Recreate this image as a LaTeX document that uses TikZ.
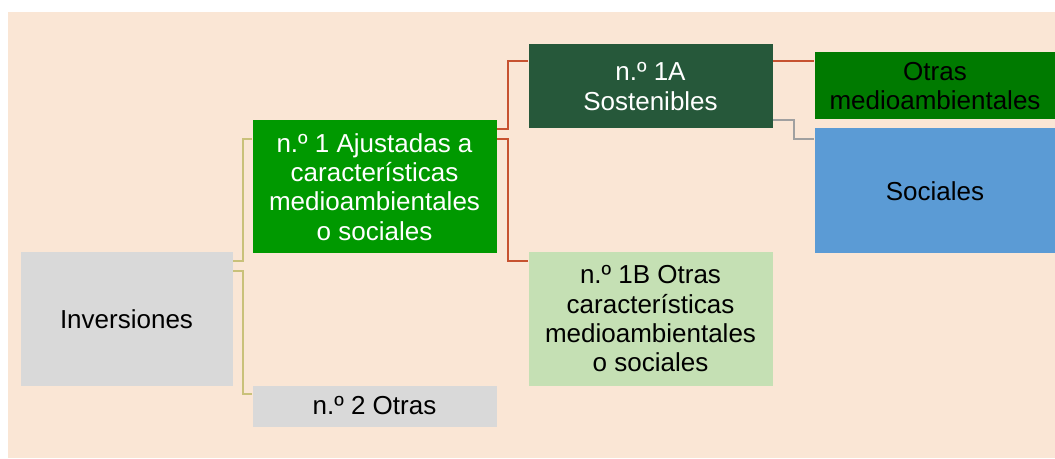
\documentclass[tikz,border=0pt]{standalone}
\usepackage{fontspec}
\setmainfont{Liberation Sans}

\definecolor{fondo}{RGB}{250,230,213}
\definecolor{gris}{RGB}{217,217,217}
\definecolor{verdeA}{RGB}{0,153,0}
\definecolor{verdeB}{RGB}{38,88,58}
\definecolor{verdeC}{RGB}{197,224,180}
\definecolor{verdeD}{RGB}{0,122,0}
\definecolor{azul}{RGB}{91,155,213}
\definecolor{lineaAm}{RGB}{201,193,122}
\definecolor{lineaRo}{RGB}{199,82,48}
\definecolor{lineaGr}{RGB}{160,160,160}

\tikzset{every picture/.style={line width=0.75pt}}
\tikzset{
  caja/.style={anchor=north west, inner sep=0.75pt, align=center, font=\fontsize{19.5}{22}\selectfont},
  enlace/.style={line width=1.5pt}
}

\begin{document}
\begin{tikzpicture}[x=0.75pt,y=0.75pt,yscale=-1,xscale=1]
\useasboundingbox (0,0) rectangle (1055,459);

%Shape: Rectangle [fondo]
\fill[fondo] (8,12) rectangle (1055,458);

% Text Node
\node[caja, fill=gris, minimum width=159pt, minimum height=99.75pt] (inv) at (20,252) {Inversiones};
% Text Node
\node[caja, fill=verdeA, text=white, minimum width=183pt, minimum height=99.75pt] (uno) at (252,120) {n.º 1 Ajustadas a\\características\\medioambientales\\o sociales};
% Text Node
\node[caja, fill=gris, minimum width=183pt, minimum height=30.75pt] (dos) at (252,385) {n.º 2 Otras};
% Text Node
\node[caja, fill=verdeB, text=white, minimum width=183pt, minimum height=63pt] (unoA) at (528,44) {n.º 1A\\Sostenibles};
% Text Node
\node[caja, fill=verdeC, minimum width=183pt, minimum height=99.75pt] (unoB) at (528,252) {n.º 1B Otras\\características\\medioambientales\\o sociales};
% Text Node
\node[caja, fill=verdeD, minimum width=180.75pt, minimum height=50.25pt] (otras) at (814,52) {Otras\\medioambientales};
% Text Node
\node[caja, fill=azul, minimum width=180.75pt, minimum height=93.75pt] (soc) at (814,128) {Sociales};

%Straight Lines
\draw[enlace, lineaAm] (inv.east |- 0,261) -- (243,261) |- (uno.west |- 0,139);
\draw[enlace, lineaAm] (inv.east |- 0,271) -- (243,271) |- (dos.west |- 0,394);
\draw[enlace, lineaRo] (uno.east |- 0,129) -- (508,129) |- (unoA.west |- 0,61);
\draw[enlace, lineaRo] (uno.east |- 0,139) -- (508,139) |- (unoB.west |- 0,261);
\draw[enlace, lineaRo] (unoA.east |- 0,61) -- (otras.west |- 0,61);
\draw[enlace, lineaGr] (unoA.east |- 0,120) -- (794,120) |- (soc.west |- 0,139);

\end{tikzpicture}
\end{document}
